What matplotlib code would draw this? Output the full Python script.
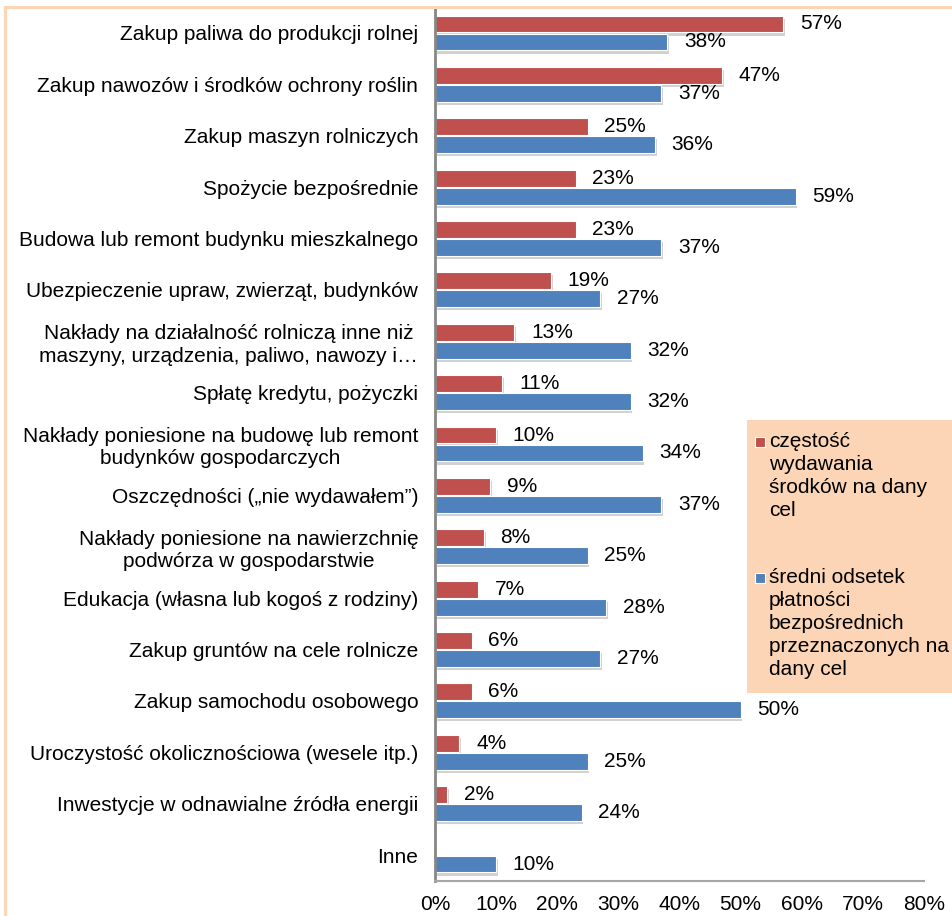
import matplotlib
matplotlib.use("Agg")
import matplotlib.pyplot as plt
import matplotlib.patheffects as pe
from matplotlib.patches import Rectangle
import numpy as np

categories = [
    "Zakup paliwa do produkcji rolnej",
    "Zakup nawozów i środków ochrony roślin",
    "Zakup maszyn rolniczych",
    "Spożycie bezpośrednie",
    "Budowa lub remont budynku mieszkalnego",
    "Ubezpieczenie upraw, zwierząt, budynków",
    "Nakłady na działalność rolniczą inne niż\nmaszyny, urządzenia, paliwo, nawozy i…",
    "Spłatę kredytu, pożyczki",
    "Nakłady poniesione na budowę lub remont\nbudynków gospodarczych",
    "Oszczędności („nie wydawałem”)",
    "Nakłady poniesione na nawierzchnię\npodwórza w gospodarstwie",
    "Edukacja (własna lub kogoś z rodziny)",
    "Zakup gruntów na cele rolnicze",
    "Zakup samochodu osobowego",
    "Uroczystość okolicznościowa (wesele itp.)",
    "Inwestycje w odnawialne źródła energii",
    "Inne",
]
# czestosc wydawania srodkow na dany cel (brak wartosci dla "Inne")
frequency = [57, 47, 25, 23, 23, 19, 13, 11, 10, 9, 8, 7, 6, 6, 4, 2, None]
# sredni odsetek platnosci bezposrednich przeznaczonych na dany cel
share = [38, 37, 36, 59, 37, 27, 32, 32, 34, 37, 25, 28, 27, 50, 25, 24, 10]
legend_labels = [
    "częstość\nwydawania\nśrodków na dany\ncel",
    "średni odsetek\npłatności\nbezpośrednich\nprzeznaczonych na\ndany cel",
]
x_ticks = [0, 10, 20, 30, 40, 50, 60, 70, 80]

RED = "#C0504D"
BLUE = "#4F81BD"
PEACH = "#FBD5B5"
FONT = ["Liberation Sans", "DejaVu Sans"]

plt.rcParams["font.family"] = FONT
plt.rcParams["font.size"] = 15

fig = plt.figure(figsize=(9.53, 9.16), dpi=100)
ax = fig.add_axes([435 / 953, 1 - 880.7 / 916, 489 / 953, (880.7 - 7.3) / 916])

y = np.arange(len(categories))
freq_vals = np.array([np.nan if v is None else v for v in frequency], dtype=float)
shadow = [pe.SimplePatchShadow(offset=(1.2, -2.2), shadow_rgbFace="#8c8c8c", alpha=0.4), pe.Normal()]

red_bars = ax.barh(y - 0.175, np.nan_to_num(freq_vals), height=0.33, color=RED,
                   edgecolor="white", linewidth=0.8)
blue_bars = ax.barh(y + 0.175, share, height=0.33, color=BLUE,
                    edgecolor="white", linewidth=0.8)
for bar in list(red_bars) + list(blue_bars):
    if bar.get_width() > 0:
        bar.set_path_effects(shadow)

ax.bar_label(red_bars, labels=["" if v is None else f"{v}%" for v in frequency],
             padding=12, fontsize=15)
ax.bar_label(blue_bars, labels=[f"{v}%" for v in share], padding=12, fontsize=15)

ax.set_ylim(len(categories) - 0.5, -0.5)
ax.set_xlim(0, 80)
ax.set_xticks(x_ticks)
ax.set_xticklabels([f"{t}%" for t in x_ticks])
ax.set_yticks(y)
ax.set_yticklabels(categories)
ax.tick_params(axis="both", length=0, labelsize=15)
ax.tick_params(axis="x", pad=10)
ax.tick_params(axis="y", pad=12)

for side in ("top", "right"):
    ax.spines[side].set_visible(False)
ax.spines["left"].set_color("#868686")
ax.spines["left"].set_linewidth(2)
ax.spines["bottom"].set_color("#A6A6A6")
ax.spines["bottom"].set_linewidth(1.5)

# ramka wykresu (przycieta z prawej i od dolu)
fig.add_artist(Rectangle((5 / 953, -0.2), 2.0, 1.2 - 7 / 916, transform=fig.transFigure,
                         fill=False, edgecolor=PEACH, linewidth=2.2))

# legenda
fig.add_artist(Rectangle((747 / 953, 1 - 693 / 916), 0.3, 273 / 916, transform=fig.transFigure,
                         facecolor=PEACH, edgecolor="none", zorder=3))
legend_rows = [(RED, 437, legend_labels[0]), (BLUE, 573, legend_labels[1])]
for color, top, label in legend_rows:
    fig.add_artist(Rectangle((755 / 953, 1 - (top + 10) / 916), 10 / 953, 10 / 916,
                             transform=fig.transFigure, facecolor=color,
                             edgecolor="white", linewidth=0.8, zorder=4))
    fig.text(769 / 953, 1 - (top - 5) / 916, label, ha="left", va="top",
             fontsize=15, linespacing=1.27, zorder=5)

# etykiety osi Y tworza sie przy rysowaniu, wiec interlinie ustawiam potem
fig.canvas.draw()
for lbl in ax.get_yticklabels():
    lbl.set_multialignment("center")
    lbl.set_linespacing(1.22)

fig.savefig("out.png", dpi=100)
